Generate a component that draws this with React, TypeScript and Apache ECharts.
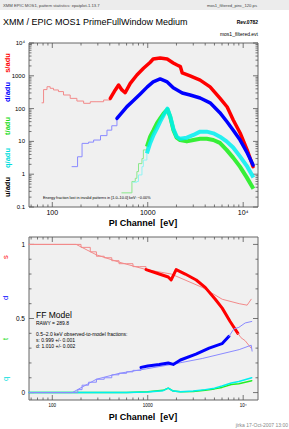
import React, { useEffect, useRef } from 'react';
import * as echarts from 'echarts';

const X_MIN = 57;
const X_MAX = 14300;
const TOP_Y_MIN = 0.1;
const TOP_Y_MAX = 10000;
const BOT_Y_MIN = -0.05;
const BOT_Y_MAX = 1.05;

// ---- top panel: spectra (counts / adu) ----
const sLowE = [78, 81, 88, 95, 103, 116, 131, 154, 181, 213, 250, 294, 345, 405];
const sLowV = [150, 380, 465, 415, 370, 330, 260, 205, 170, 145, 162, 162, 183, 205];
const sE = [405, 457, 495, 536, 580, 656, 770, 903, 1063, 1140, 1350, 1600, 1850, 2030, 2200, 2300, 2780, 3540, 4500, 5700, 6800, 7870, 9290, 11000, 12700];
const sV = [205, 370, 525, 370, 305, 590, 1060, 1690, 2600, 3240, 3480, 3240, 2460, 2130, 1900, 1220, 990, 740, 460, 210, 112, 45, 18, 5.5, 1.7];

const dLowE = [161, 184, 205, 240, 271, 320, 374, 420, 476];
const dLowV = [1.7, 3.4, 8.7, 9.5, 11, 15, 22, 30, 50];
const dE = [476, 606, 700, 835, 990, 1140, 1350, 1600, 1850, 2300, 2780, 3540, 4500, 5700, 6800, 7870, 9290, 11000, 12700];
const dV = [50, 115, 170, 280, 460, 650, 800, 650, 430, 300, 260, 210, 150, 75, 39, 22, 11, 4.5, 1.9];

const tLowE = [536, 683, 740, 770, 800, 870, 900, 980];
const tLowV = [0.27, 0.6, 0.75, 1.2, 2.1, 3.0, 5.5, 6.9];
const tE = [980, 1060, 1150, 1250, 1350, 1470, 1610, 1720, 1860, 2010, 2180, 2570, 3010, 3540, 4150, 4870, 5700, 6700, 7850, 9250, 10900, 12800];
const tV = [6.9, 14, 22, 36, 50, 72, 95, 56, 22, 13, 11, 10, 11, 12, 12, 11, 9, 5.5, 3.2, 1.7, 0.8, 0.36];

const qLowE = [700, 770, 800, 870, 900, 980];
const qLowV = [0.57, 0.6, 0.95, 1.7, 2.7, 4.3];
const qE = [980, 1060, 1150, 1250, 1350, 1470, 1610, 1720, 1860, 2010, 2180, 2570, 3010, 3540, 4150, 4870, 5700, 6700, 7850, 9250, 10900, 12800];
const qV = [4.3, 8.8, 15.7, 25, 40, 64, 100, 58, 24, 14, 12, 13, 15.7, 19.8, 19.8, 17.6, 13.9, 10, 6.5, 3.5, 1.8, 0.8];

// ---- bottom panel: pattern fractions ----
const sFracLowE = [57, 178, 200, 250, 290, 350, 420, 500, 600, 700, 815, 960];
const sFracLowV = [1, 1, 0.98, 0.95, 0.92, 0.91, 0.89, 0.87, 0.87, 0.85, 0.85, 0.83];
const sFracE = [960, 1320, 1640, 1760, 1985, 2470, 3220, 4000, 5100, 6030, 7300, 8800];
const sFracV = [0.83, 0.80, 0.78, 0.76, 0.83, 0.80, 0.76, 0.71, 0.63, 0.57, 0.48, 0.40];
const sFracTailE = [8800, 9500, 10500, 12100];
const sFracTailV = [0.40, 0.37, 0.35, 0.30];
const sModelE = [57, 178, 289, 503, 964, 1762, 3720, 6030, 9080, 11000, 12140];
const sModelV = [1, 1, 0.93, 0.88, 0.83, 0.80, 0.71, 0.63, 0.60, 0.59, 0.63];

const dFracLowE = [57, 162, 185, 205, 240, 290, 350, 420, 500, 600, 700, 850];
const dFracLowV = [0, 0, 0.02, 0.05, 0.07, 0.09, 0.10, 0.12, 0.13, 0.14, 0.15, 0.17];
const dFracE = [850, 1000, 1320, 1640, 1850, 2200, 3200, 4400, 6000, 7100];
const dFracV = [0.17, 0.18, 0.19, 0.20, 0.19, 0.22, 0.26, 0.30, 0.33, 0.38];
const dFracTailE = [7100, 8000, 9000, 10500, 12300];
const dFracTailV = [0.38, 0.43, 0.44, 0.47, 0.48];
const dModelE = [57, 162, 289, 503, 964, 1780, 3720, 9080, 12140, 12400];
const dModelV = [0, 0, 0.09, 0.13, 0.16, 0.19, 0.23, 0.29, 0.32, 0.28];

const tqFracE = [57, 600, 1000, 1450, 1640, 1850, 2200, 3000, 4000, 5000, 6000, 7500, 9000, 12300];
const tFracV = [0, 0, 0.005, 0.015, 0.03, 0.01, 0.005, 0.008, 0.015, 0.025, 0.035, 0.055, 0.06, 0.08];
const qFracV = [0, 0, 0.004, 0.013, 0.03, 0.01, 0.005, 0.01, 0.02, 0.03, 0.045, 0.065, 0.075, 0.10];

// ---- ticks ----
const xMajorTicks = [100, 1000, 10000];
const xMinorTicks = [60, 70, 80, 90, 200, 300, 400, 500, 600, 700, 800, 900, 2000, 3000, 4000, 5000, 6000, 7000, 8000, 9000];
const topYMajorTicks = [0.1, 1, 10, 100, 1000, 10000];
const topYMinorTicks = [0.2, 0.3, 0.4, 0.5, 0.6, 0.7, 0.8, 0.9, 2, 3, 4, 5, 6, 7, 8, 9, 20, 30, 40, 50, 60, 70, 80, 90, 200, 300, 400, 500, 600, 700, 800, 900, 2000, 3000, 4000, 5000, 6000, 7000, 8000, 9000];
const botYMajorTicks = [0, 0.5, 1];
const botYMajorLabels = ['0', '0.5', '1'];
const botYMinorTicks = [0.1, 0.2, 0.3, 0.4, 0.6, 0.7, 0.8, 0.9];

const FONT = '"Liberation Sans", Arial, Helvetica, sans-serif';

function fmtPow(v: number): string {
  if (Math.abs(v / 10000 - 1) < 1e-6) return '10⁴';
  if (v >= 1) return String(Math.round(v));
  return String(Math.round(v * 10) / 10);
}

function pair(E: number[], V: number[]) {
  return E.map((e, i) => [e, V[i]]);
}

function line(gi: number, E: number[], V: number[], color: string, width: number, extra: any = {}) {
  return {
    type: 'line',
    xAxisIndex: gi,
    yAxisIndex: gi,
    data: pair(E, V),
    symbol: 'none',
    showSymbol: false,
    silent: true,
    lineStyle: { color, width, join: 'round', cap: 'round' },
    ...extra,
  };
}

const TICK = '#555';

function xTickSeries(gi: number, yRef: number) {
  const data = [
    ...xMajorTicks.map((v) => [v, yRef, 1]),
    ...xMinorTicks.map((v) => [v, yRef, 0]),
  ];
  return {
    type: 'custom',
    xAxisIndex: gi,
    yAxisIndex: gi,
    clip: false,
    silent: true,
    data,
    renderItem: (params: any, api: any) => {
      const p = api.coord([api.value(0), api.value(1)]);
      const cs = params.coordSys;
      const len = api.value(2) ? 5 : 2.5;
      const st = { stroke: TICK, lineWidth: 0.8 };
      return {
        type: 'group',
        children: [
          { type: 'line', shape: { x1: p[0], y1: cs.y + cs.height, x2: p[0], y2: cs.y + cs.height - len }, style: st },
          { type: 'line', shape: { x1: p[0], y1: cs.y, x2: p[0], y2: cs.y + len }, style: st },
        ],
      };
    },
  };
}

function yTickSeries(gi: number, majors: number[], minors: number[], labels: string[] | null) {
  const data = [
    ...majors.map((v, i) => [X_MIN, v, 1, i]),
    ...minors.map((v) => [X_MIN, v, 0, -1]),
  ];
  return {
    type: 'custom',
    xAxisIndex: gi,
    yAxisIndex: gi,
    clip: false,
    silent: true,
    data,
    renderItem: (params: any, api: any) => {
      const p = api.coord([api.value(0), api.value(1)]);
      const cs = params.coordSys;
      const major = api.value(2) === 1;
      const len = major ? 5 : 2.5;
      const st = { stroke: TICK, lineWidth: 0.8 };
      const children: any[] = [
        { type: 'line', shape: { x1: cs.x, y1: p[1], x2: cs.x + len, y2: p[1] }, style: st },
        { type: 'line', shape: { x1: cs.x + cs.width, y1: p[1], x2: cs.x + cs.width - len, y2: p[1] }, style: st },
      ];
      const li = api.value(3);
      if (labels && major && li >= 0) {
        children.push({
          type: 'text',
          x: cs.x - 4,
          y: p[1],
          style: { text: labels[li], fill: '#000', font: `6.5px ${FONT}`, align: 'right', verticalAlign: 'middle' },
        });
      }
      return { type: 'group', children };
    },
  };
}

const RED = '#ff0000';
const RED_L = '#f28a8a';
const BLUE = '#0000ff';
const BLUE_L = '#8a8aff';
const GREEN = '#22ee22';
const GREEN_L = '#8ae88a';
const CYAN = '#00f0f0';
const CYAN_L = '#90f4f4';

export default function App() {
  const ref = useRef<HTMLDivElement>(null);

  useEffect(() => {
    if (!ref.current) return;
    const chart = echarts.init(ref.current, undefined, { renderer: 'svg' });

    const txt = (x: number, y: number, text: string, size: number, fill = '#000', extra: any = {}, style: any = {}) => ({
      type: 'text',
      x,
      y,
      silent: true,
      ...extra,
      style: { text, fill, font: `${style.weight || 'normal'} ${size}px ${FONT}`, align: style.align || 'left', verticalAlign: 'middle' },
    });

    const option: any = {
      animation: false,
      backgroundColor: '#ffffff',
      grid: [
        { left: 29, top: 43, width: 229, height: 164, show: true, backgroundColor: '#f0f0f0', borderColor: '#666', borderWidth: 1 },
        { left: 29, top: 237, width: 229, height: 163, show: true, backgroundColor: '#f0f0f0', borderColor: '#666', borderWidth: 1 },
      ],
      xAxis: [
        {
          type: 'log', gridIndex: 0, min: X_MIN, max: X_MAX,
          axisLine: { show: false }, axisTick: { show: false }, splitLine: { show: false },
          axisLabel: { fontSize: 7, color: '#000', margin: 2, fontFamily: FONT, formatter: (v: number) => (xMajorTicks.some((t) => Math.abs(v / t - 1) < 1e-6) ? fmtPow(v) : '') },
        },
        {
          type: 'log', gridIndex: 1, min: X_MIN, max: X_MAX,
          axisLine: { show: false }, axisTick: { show: false }, splitLine: { show: false },
          axisLabel: { fontSize: 4.5, color: '#000', margin: 3, fontFamily: FONT, formatter: (v: number) => (xMajorTicks.some((t) => Math.abs(v / t - 1) < 1e-6) ? fmtPow(v) : '') },
        },
      ],
      yAxis: [
        {
          type: 'log', gridIndex: 0, min: TOP_Y_MIN, max: TOP_Y_MAX,
          axisLine: { show: false }, axisTick: { show: false }, splitLine: { show: false },
          axisLabel: { fontSize: 6, color: '#000', margin: 4, fontFamily: FONT, formatter: (v: number) => (topYMajorTicks.some((t) => Math.abs(v / t - 1) < 1e-6) ? fmtPow(v) : '') },
        },
        {
          type: 'value', gridIndex: 1, min: BOT_Y_MIN, max: BOT_Y_MAX,
          axisLine: { show: false }, axisTick: { show: false }, splitLine: { show: false },
          axisLabel: { show: false },
        },
      ],
      series: [
        // top panel
        line(0, sLowE, sLowV, RED_L, 1, { step: 'end' }),
        line(0, sE, sV, RED, 3.5),
        line(0, dLowE, dLowV, BLUE_L, 1, { step: 'end' }),
        line(0, dE, dV, BLUE, 3.5),
        line(0, tLowE, tLowV, GREEN_L, 1, { step: 'end' }),
        line(0, tE, tV, GREEN, 4, { lineStyle: { color: GREEN, width: 4, opacity: 0.9, join: 'round' } }),
        line(0, qLowE, qLowV, CYAN_L, 1, { step: 'end' }),
        line(0, qE, qV, CYAN, 4, { lineStyle: { color: CYAN, width: 4, opacity: 0.85, join: 'round' } }),
        // bottom panel
        line(1, tqFracE, tFracV, GREEN, 1.5),
        line(1, tqFracE, qFracV, CYAN, 1.5),
        line(1, sModelE, sModelV, RED_L, 1),
        line(1, sFracLowE, sFracLowV, RED_L, 1, { step: 'end' }),
        line(1, sFracE, sFracV, RED, 3),
        line(1, sFracTailE, sFracTailV, RED_L, 1),
        line(1, dModelE, dModelV, BLUE_L, 1),
        line(1, dFracLowE, dFracLowV, BLUE_L, 1, { step: 'end' }),
        line(1, dFracE, dFracV, BLUE, 3),
        line(1, dFracTailE, dFracTailV, BLUE_L, 1),
        // ticks
        xTickSeries(0, 1),
        yTickSeries(0, topYMajorTicks, topYMinorTicks, null),
        xTickSeries(1, 0.5),
        yTickSeries(1, botYMajorTicks, botYMinorTicks, botYMajorLabels),
      ],
      graphic: [
        { type: 'rect', shape: { x: 0, y: 0, width: 289, height: 10 }, style: { fill: '#ececec' }, silent: true },
        txt(3, 5, 'XMM EPIC MOS1, pattern statistics: epatplot-1.13.7', 4.2, '#444'),
        txt(257, 5, 'mos1_filtered_pinc_120.ps', 4.2, '#444', {}, { align: 'right' }),
        txt(3, 22, 'XMM / EPIC MOS1 PrimeFullWindow Medium', 9),
        txt(258, 22, 'Rev.0782', 5, '#000', {}, { align: 'right', weight: 'bold' }),
        txt(258, 34, 'mos1_filtered.evt', 5, '#000', {}, { align: 'right' }),
        // top y names
        txt(7, 63, 's/adu', 7.5, RED, { rotation: Math.PI / 2 }, { align: 'center', weight: 'bold' }),
        txt(7, 92, 'd/adu', 7.5, BLUE, { rotation: Math.PI / 2 }, { align: 'center', weight: 'bold' }),
        txt(7, 126, 't/adu', 7.5, '#22dd22', { rotation: Math.PI / 2 }, { align: 'center', weight: 'bold' }),
        txt(7, 158, 'q/adu', 7.5, '#00dddd', { rotation: Math.PI / 2 }, { align: 'center', weight: 'bold' }),
        txt(7, 187, 'u/adu', 7.5, '#000', { rotation: Math.PI / 2 }, { align: 'center', weight: 'bold' }),
        // bottom y names
        txt(5, 257, 's', 7.5, RED, { rotation: Math.PI / 2 }, { align: 'center' }),
        txt(5, 298, 'd', 7.5, BLUE, { rotation: Math.PI / 2 }, { align: 'center' }),
        txt(5, 339, 't', 7.5, '#22dd22', { rotation: Math.PI / 2 }, { align: 'center' }),
        txt(5, 379, 'q', 7.5, '#00dddd', { rotation: Math.PI / 2 }, { align: 'center' }),
        // axis titles
        txt(143, 223, 'PI Channel  [eV]', 9, '#000', {}, { align: 'center', weight: 'bold' }),
        txt(143, 417, 'PI Channel  [eV]', 9, '#000', {}, { align: 'center', weight: 'bold' }),
        txt(43, 198, 'Energy fraction lost in invalid patterns in [1.0–10.0] keV: ~0.00%', 3.8),
        // bottom annotation
        txt(36, 315, 'FF Model', 8.5),
        txt(36, 322.5, 'RAWY = 289.8', 5),
        txt(36, 334, '0.5–2.0 keV observed-to-model fractions:', 5),
        txt(36, 340, 's: 0.999 +/- 0.001', 5),
        txt(36, 346, 'd: 1.010 +/- 0.002', 5),
        txt(288, 425, 'jirka 17-Oct-2007 13:00', 5, '#888', {}, { align: 'right' }),
      ],
    };

    chart.setOption(option);
    return () => chart.dispose();
  }, []);

  return (
    <div
      ref={ref}
      style={{ position: 'fixed', left: 0, top: 0, width: 289, height: 429, background: '#fff' }}
    />
  );
}
